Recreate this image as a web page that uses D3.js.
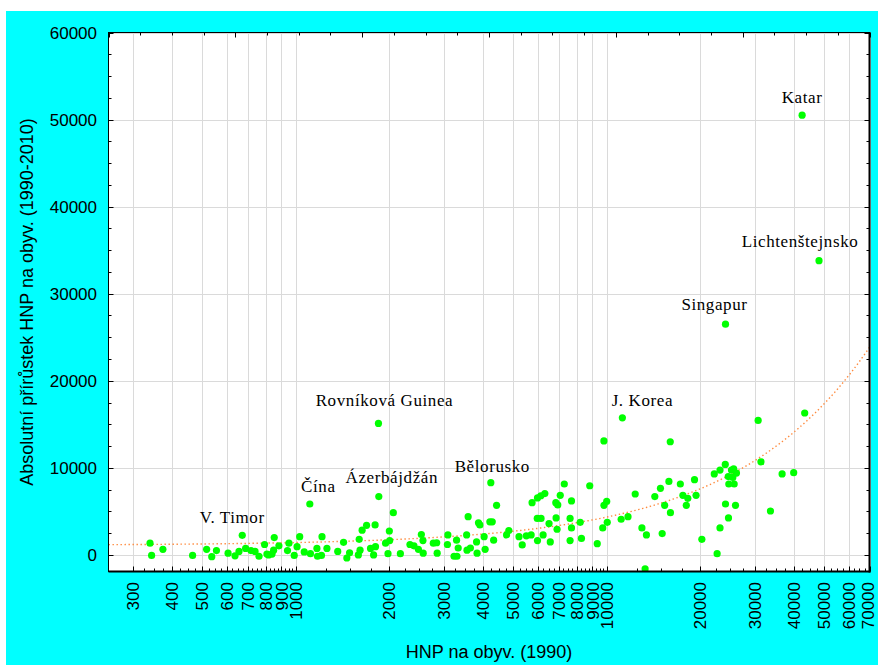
<!DOCTYPE html>
<html>
<head>
<meta charset="utf-8">
<script src="https://cdn.jsdelivr.net/npm/d3@7"></script>
<style>
  html, body { margin: 0; padding: 0; background: #fff; }
  svg { display: block; }
</style>
</head>
<body>
<svg id="chart" width="878" height="665"></svg>
<script>
// GNP per capita in 1990 (x) and absolute growth of GNP per capita 1990-2010 (y)
const gnp1990 = [
  340, 344, 374, 466, 517, 537, 556, 606, 638, 657, 690, 718, 740, 762, 794, 808, 818, 839, 853, 849,
  883, 951, 941, 989, 1010, 1030, 1065, 1115, 1170, 1175, 1215, 1210, 1260, 1365, 1425, 1460, 1490, 1590, 1600, 1610,
  1635, 1690, 1740, 1780, 1800, 1805, 1945, 1980, 2000, 2005, 2060, 2170, 2330, 2400, 2480, 2535, 2565, 2570, 2770, 2840,
  2850, 3085, 3075, 3230, 3300, 3290, 3330, 3545, 3555, 3645, 3585, 3815, 3830, 3870, 3910, 4035, 4065, 4210, 4285, 4330,
  4425, 4765, 4845, 5225, 5350, 5515, 5715, 5755, 5990, 6140, 6325, 5980, 6150, 5990, 6245, 6525, 6585, 6860, 6960, 7090,
  7305, 6875, 6925, 7705, 7625, 7705, 7625, 8220, 8295, 8820, 9325, 9710, 9800, 10000, 10040, 9795, 11130, 11710, 12350, 12980,
  13420, 13290, 14280, 14890, 15080, 15360, 15850, 16010, 16030, 17250, 17580, 18030, 18230, 19160, 19380, 20230, 22180, 22650, 23140, 23140,
  24060, 24100, 24640, 24600, 24700, 25190, 25440, 25600, 25700, 26140, 25950, 30690, 31330, 33620, 36650, 39930, 43320
];
const gnpGrowth = [
  1350, -50, 650, -50, 650, -200, 500, 200, -100, 400, 750, 500, 400, -150, 1200, 100, 0, 100, 2000, 550,
  1050, 1350, 500, -50, 950, 2100, 350, 150, 750, -150, 2100, -50, 750, 400, 1450, -350, 250, 0, 1800, 550,
  2850, 3400, 750, 0, 3450, 950, 1350, 150, 2750, 1650, 4850, 150, 1200, 1050, 650, 2350, 1650, 200, 1350, 1400,
  200, 2300, 1200, -150, -150, 1700, 800, 2300, 550, 800, 4400, 1500, 200, 3700, 3450, 2100, 650, 3800, 3800, 1700,
  5700, 2300, 2800, 2100, 1150, 2200, 2300, 6000, 6550, 6800, 7050, 4200, 4200, 1650, 2300, 3600, 1500, 6000, 5750, 6850,
  8150, 4250, 2950, 6200, 4200, 3100, 1650, 3750, 1900, 7950, 1300, 3100, 5700, 6150, 3750, 13100, 4100, 4400, 7000, 3100,
  2300, -1600, 6700, 7650, 2450, 5700, 8450, 13000, 4850, 8150, 6850, 5700, 6500, 8650, 6850, 1800, 9300, 150, 9750, 3100,
  10400, 5850, 4250, 9000, 8150, 9750, 8900, 9900, 8150, 9400, 5700, 15450, 10700, 5050, 9300, 9450, 16300
];

// Countries named in the chart
const namedCountries = ["V. Timor", "Čína", "Ázerbájdžán", "Rovníková Guinea", "Bělorusko", "J. Korea", "Singapur", "Katar", "Lichtenštejnsko"];
const namedGnp1990   = [673, 1110, 1850, 1845, 4240, 11230, 24100, 42500, 48170];
const namedGrowth    = [2250, 5850, 6700, 15100, 8300, 15750, 26500, 50500, 33800];

// Linear fit y = a + b·x shown as the dotted trend
const trendIntercept = 1100;
const trendSlope = 0.325;

// Axis ticks
const xTickValues = [300, 400, 500, 600, 700, 800, 900, 1000, 2000, 3000, 4000, 5000, 6000, 7000, 8000, 9000, 10000,
                     20000, 30000, 40000, 50000, 60000, 70000];
const yTickValues = [0, 10000, 20000, 30000, 40000, 50000, 60000];

const xTitle = "HNP na obyv. (1990)";
const yTitle = "Absolutní přírůstek HNP na obyv. (1990-2010)";

// ---------------------------------------------------------------------------
const W = 878, H = 665;
const P = { left: 108.5, right: 869.5, top: 32.5, bottom: 571.5 };
const sans = "'Liberation Sans', Arial, sans-serif";
const serif = "'Liberation Serif', 'Times New Roman', serif";

const svg = d3.select("#chart");

// backdrop
svg.append("rect").attr("x", 0).attr("y", 0).attr("width", W).attr("height", H).attr("fill", "#fff");
svg.append("rect").attr("x", 6).attr("y", 11).attr("width", W - 6).attr("height", H - 11).attr("fill", "#00ffff");
svg.append("rect").attr("x", P.left).attr("y", P.top)
  .attr("width", P.right - P.left).attr("height", P.bottom - P.top).attr("fill", "#fff");

const x = d3.scaleLog().domain([250, 70000]).range([P.left, P.right]);
const y = d3.scaleLinear().domain([-1900, 60000]).range([P.bottom, P.top]);

svg.append("clipPath").attr("id", "plotClip")
  .append("rect").attr("x", P.left).attr("y", P.top)
  .attr("width", P.right - P.left).attr("height", P.bottom - P.top);

// grid
const grid = svg.append("g").attr("stroke", "#dadada").attr("stroke-width", 1);
grid.selectAll("line.v").data(xTickValues).join("line")
  .attr("x1", d => Math.round(x(d)) + 0.5).attr("x2", d => Math.round(x(d)) + 0.5)
  .attr("y1", P.top).attr("y2", P.bottom);
grid.selectAll("line.h").data(yTickValues).join("line")
  .attr("x1", P.left).attr("x2", P.right)
  .attr("y1", d => Math.round(y(d)) + 0.5).attr("y2", d => Math.round(y(d)) + 0.5);

// dotted trend across the whole x range
const [d0, d1] = x.domain();
const trendX = d3.range(0, 401).map(i => d0 * Math.pow(d1 / d0, i / 400));
svg.append("path")
  .attr("clip-path", "url(#plotClip)")
  .attr("d", d3.line().x(v => x(v)).y(v => y(trendIntercept + trendSlope * v))(trendX))
  .attr("fill", "none").attr("stroke", "#ff8a3d").attr("stroke-width", 1.4)
  .attr("stroke-dasharray", "1.4 2.6");

// points
const allX = gnp1990.concat(namedGnp1990);
const allY = gnpGrowth.concat(namedGrowth);
const pts = allX.map((v, i) => ({ gx: v, gy: allY[i] }));
svg.append("g").attr("clip-path", "url(#plotClip)")
  .selectAll("circle").data(pts).join("circle")
  .attr("cx", d => x(d.gx)).attr("cy", d => y(d.gy)).attr("r", 3.6)
  .attr("fill", "#00ff00");

// point labels
const labelShift = {
  "V. Timor": [-10, -12.5], "Čína": [8.5, -12.5], "Ázerbájdžán": [13, -13.5],
  "Rovníková Guinea": [6, -17], "Bělorusko": [1.5, -11], "J. Korea": [20, -12],
  "Singapur": [-11, -14], "Katar": [0, -12], "Lichtenštejnsko": [-19, -13.5]
};
svg.append("g").selectAll("text").data(namedCountries).join("text")
  .attr("x", (d, i) => x(namedGnp1990[i]) + labelShift[d][0])
  .attr("y", (d, i) => y(namedGrowth[i]) + labelShift[d][1])
  .attr("text-anchor", "middle")
  .attr("font-family", serif).attr("font-size", 17).attr("letter-spacing", 0.6)
  .attr("fill", "#000")
  .text(d => d);

// ticks
const ticks = svg.append("g").attr("stroke", "#000").attr("stroke-width", 1);
const yMinor = d3.range(0, 60001, 2500);
yMinor.forEach(v => {
  const len = v % 10000 === 0 ? 5 : 3;
  const yy = Math.round(y(v)) + 0.5;
  ticks.append("line").attr("x1", P.left).attr("x2", P.left + len).attr("y1", yy).attr("y2", yy);
  ticks.append("line").attr("x1", P.right - len).attr("x2", P.right).attr("y1", yy).attr("y2", yy);
});
const xMinor = [];
for (let i = 0; i < xTickValues.length - 1; i++) {
  const a = xTickValues[i], b = xTickValues[i + 1];
  for (let k = 1; k < 4; k++) xMinor.push(a + (b - a) * k / 4);
}
xTickValues.forEach(v => {
  const xx = Math.round(x(v)) + 0.5;
  ticks.append("line").attr("x1", xx).attr("x2", xx).attr("y1", P.bottom - 5).attr("y2", P.bottom);
});
xMinor.forEach(v => {
  const xx = Math.round(x(v)) + 0.5;
  ticks.append("line").attr("x1", xx).attr("x2", xx).attr("y1", P.bottom - 3).attr("y2", P.bottom);
});
// evenly divided top edge
const topScale = d3.scaleLinear().domain([0, 24]).range([P.left, P.right]);
d3.range(0, 25).forEach(k => {
  const xx = Math.round(topScale(k)) + 0.5;
  ticks.append("line").attr("x1", xx).attr("x2", xx)
    .attr("y1", P.top).attr("y2", P.top + (k % 4 === 0 ? 5 : 3));
});

// frame
svg.append("rect").attr("x", P.left).attr("y", P.top)
  .attr("width", P.right - P.left).attr("height", P.bottom - P.top)
  .attr("fill", "none").attr("stroke", "#000").attr("stroke-width", 1);
svg.append("line").attr("x1", P.right).attr("x2", P.right).attr("y1", P.top).attr("y2", P.bottom + 1)
  .attr("stroke", "#000").attr("stroke-width", 2);
svg.append("line").attr("x1", P.left).attr("x2", P.right + 1).attr("y1", P.bottom).attr("y2", P.bottom)
  .attr("stroke", "#000").attr("stroke-width", 2);

// tick labels
svg.append("g").selectAll("text").data(yTickValues).join("text")
  .attr("x", 97).attr("y", d => y(d)).attr("dy", "0.36em")
  .attr("text-anchor", "end").attr("font-family", sans).attr("font-size", 17).attr("fill", "#000")
  .text(d => d);
svg.append("g").selectAll("text").data(xTickValues).join("text")
  .attr("transform", d => `translate(${Math.min(x(d), 868)},582) rotate(-90)`)
  .attr("dy", "0.36em")
  .attr("text-anchor", "end").attr("font-family", sans).attr("font-size", 17).attr("fill", "#000")
  .text(d => d);

// axis titles
svg.append("text").attr("x", (P.left + P.right) / 2).attr("y", 658)
  .attr("text-anchor", "middle").attr("font-family", sans).attr("font-size", 18).attr("fill", "#000")
  .text(xTitle);
svg.append("text").attr("transform", `translate(33,${(P.top + P.bottom) / 2}) rotate(-90)`)
  .attr("text-anchor", "middle").attr("font-family", sans).attr("font-size", 18).attr("fill", "#000")
  .text(yTitle);
</script>
</body>
</html>
